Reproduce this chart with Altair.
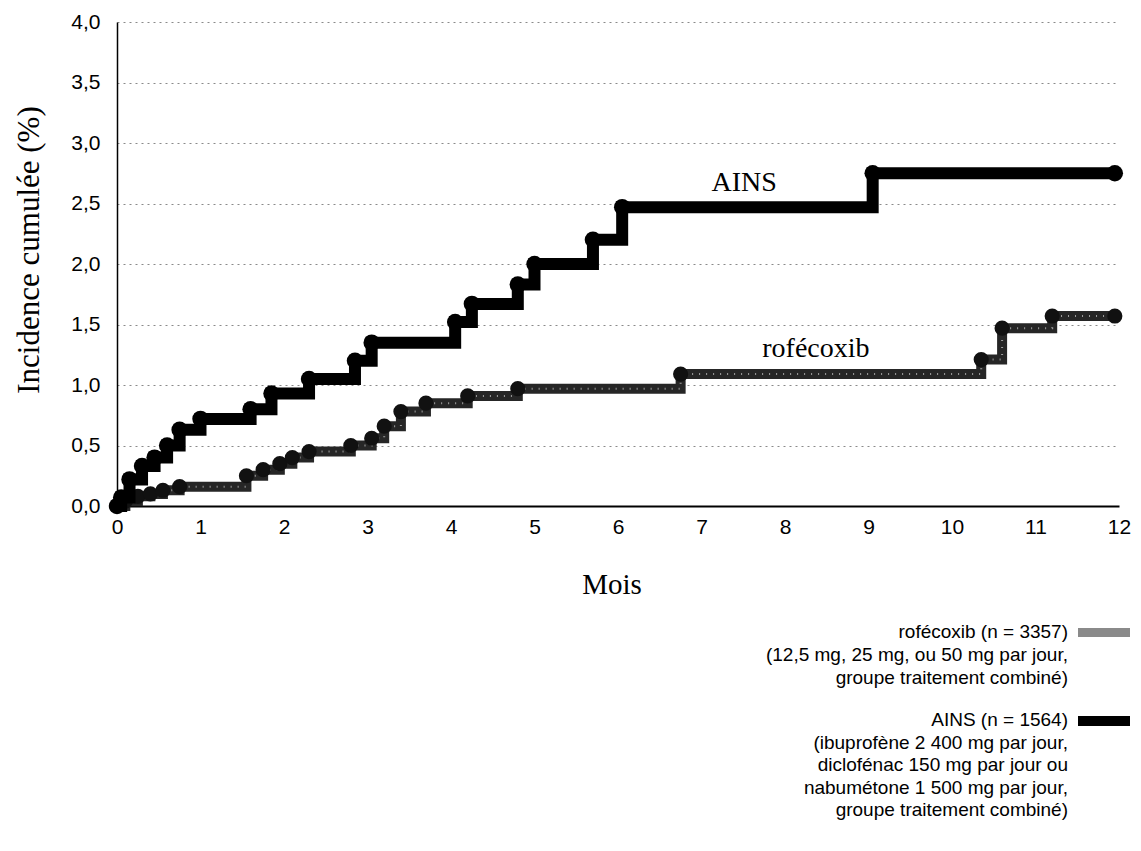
import altair as alt
import pandas as pd

# ---- data ----
ains_month = [0, 0.05, 0.15, 0.3, 0.45, 0.6, 0.75, 1.0, 1.6, 1.85, 2.3, 2.85, 3.05,
              4.05, 4.25, 4.8, 5.0, 5.7, 6.05, 9.05, 11.95]
ains_value = [0, 0.07, 0.22, 0.33, 0.4, 0.5, 0.63, 0.72, 0.8, 0.93, 1.05, 1.2, 1.35,
              1.52, 1.67, 1.83, 2.0, 2.2, 2.47, 2.75, 2.75]

rofe_month = [0, 0.1, 0.25, 0.4, 0.55, 0.75, 1.55, 1.75, 1.95, 2.1, 2.3, 2.8, 3.05,
              3.2, 3.4, 3.7, 4.2, 4.8, 6.75, 10.35, 10.6, 11.2, 11.95]
rofe_value = [0, 0.04, 0.08, 0.1, 0.13, 0.16, 0.25, 0.3, 0.35, 0.4, 0.45, 0.5, 0.56,
              0.66, 0.78, 0.85, 0.91, 0.97, 1.09, 1.21, 1.47, 1.57, 1.57]

x_ticks = list(range(0, 13))
y_ticks = [0, 0.5, 1.0, 1.5, 2.0, 2.5, 3.0, 3.5, 4.0]

label_names = ["AINS", "rofécoxib"]
label_month = [7.51, 8.37]
label_value = [2.67, 1.30]

legend_rofe = ["rofécoxib (n = 3357)",
               "(12,5 mg, 25 mg, ou 50 mg par jour,",
               "groupe traitement combiné)"]
legend_ains = ["AINS (n = 1564)",
               "(ibuprofène 2 400 mg par jour,",
               "diclofénac 150 mg par jour ou",
               "nabumétone 1 500 mg par jour,",
               "groupe traitement combiné)"]

SANS = "Liberation Sans Narrow, Arial Narrow, Liberation Sans, sans-serif"
SERIF = "Liberation Serif, DejaVu Serif, serif"

ains = pd.DataFrame({"month": ains_month, "value": ains_value})
rofe = pd.DataFrame({"month": rofe_month, "value": rofe_value})
labels = pd.DataFrame({"month": label_month, "value": label_value, "name": label_names})

X = alt.X("month:Q",
          scale=alt.Scale(domain=[0, 12], nice=False, zero=True),
          axis=alt.Axis(values=x_ticks, title=None, grid=False, ticks=False,
                        domainColor="black", domainWidth=2,
                        labelFont=SANS, labelFontSize=21, labelColor="black",
                        labelPadding=10, labelFlush=False))
Y = alt.Y("value:Q",
          scale=alt.Scale(domain=[0, 4], nice=False),
          axis=alt.Axis(values=y_ticks, title=None, grid=True,
                        gridDash=[2, 4], gridColor="#8a8a8a", gridWidth=1,
                        ticks=False, domainColor="black", domainWidth=1.5,
                        labelFont=SANS, labelFontSize=21, labelColor="black",
                        labelPadding=17,
                        labelExpr="replace(format(datum.value, '.1f'), '.', ',')"))

rofe_line = alt.Chart(rofe).mark_line(interpolate="step-after", strokeWidth=10,
                                      color="#262626").encode(x=X, y=Y)
rofe_speck = alt.Chart(rofe).mark_line(interpolate="step-after", strokeWidth=2,
                                       strokeDash=[1, 6], color="#bdbdbd",
                                       opacity=0.8).encode(x=X, y=Y)
rofe_pts = alt.Chart(rofe).mark_circle(size=230, color="#111111",
                                       opacity=1).encode(x=X, y=Y)
ains_line = alt.Chart(ains).mark_line(interpolate="step-after", strokeWidth=12,
                                      color="#000000").encode(x=X, y=Y)
ains_pts = alt.Chart(ains).mark_circle(size=270, color="#000000",
                                       opacity=1).encode(x=X, y=Y)

curve_labels = alt.Chart(labels).mark_text(font=SERIF, fontSize=28, color="black",
                                           align="center", baseline="middle").encode(
    x=X, y=Y, text="name:N")

one = pd.DataFrame({"a": [0]})
y_title = alt.Chart(one).mark_text(text="Incidence cumulée (%)", font=SERIF,
                                   fontSize=31, angle=270, color="black",
                                   align="center", baseline="middle").encode(
    x=alt.value(-87), y=alt.value(228))
x_title = alt.Chart(one).mark_text(text="Mois", font=SERIF, fontSize=29,
                                   color="black", align="center",
                                   baseline="middle").encode(
    x=alt.value(495), y=alt.value(563))

leg_rofe = alt.Chart(one).mark_text(text=legend_rofe, font=SANS,
                                    fontSize=19, lineHeight=23, color="black",
                                    align="right", baseline="top").encode(
    x=alt.value(951), y=alt.value(601))
leg_ains = alt.Chart(one).mark_text(text=legend_ains, font=SANS, fontSize=19,
                                    lineHeight=22.5, color="black",
                                    align="right", baseline="top").encode(
    x=alt.value(951), y=alt.value(689))
sw_rofe = alt.Chart(one).mark_rect(color="#8a8a8a").encode(
    x=alt.value(961), x2=alt.value(1013), y=alt.value(606), y2=alt.value(615))
sw_ains = alt.Chart(one).mark_rect(color="#000000").encode(
    x=alt.value(961), x2=alt.value(1013), y=alt.value(694), y2=alt.value(704))

chart = alt.layer(
    rofe_line, rofe_speck, rofe_pts, ains_line, ains_pts, curve_labels,
    y_title, x_title, leg_rofe, leg_ains, sw_rofe, sw_ains
).properties(
    width=1002, height=484,
    autosize=alt.AutoSizeParams(type="none"),
    padding={"left": 109, "top": 14, "right": 14, "bottom": 330},
    background="white"
).configure_view(stroke=None)

chart.save("out.html", embed_options={"renderer": "svg", "actions": False})
